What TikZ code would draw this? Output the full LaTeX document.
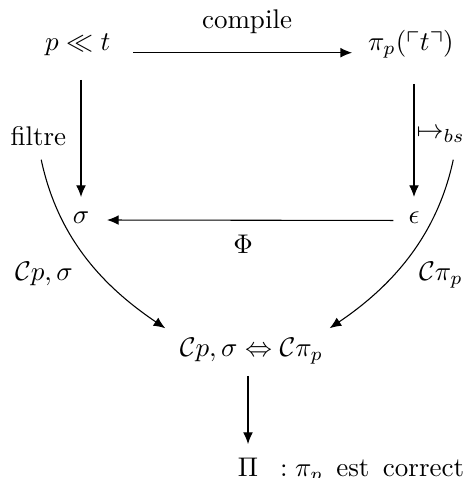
\documentclass[tikz,border=0pt]{standalone}
\usepackage{amssymb}
\usetikzlibrary{arrows.meta}
\begin{document}
\begin{tikzpicture}[x=0.3704pt,y=-0.3704pt,
  obj/.style={inner sep=0pt, outer sep=0pt, anchor=base},
  lbl/.style={inner sep=0pt, outer sep=0pt, anchor=base},
  arr/.style={-{Latex[length=4.3pt,width=3.6pt]}, line width=0.4pt}]
\useasboundingbox (0,0) rectangle (475,478);
\node[obj, anchor=base west] (A) at (45,50.7) {$p \ll t$};
\node[obj, anchor=base west] (B) at (368,50.7) {$\pi_p(\ulcorner t\urcorner)$};
\node[obj] (S) at (81,223.5) {$\sigma$};
\node[obj] (E) at (414,224) {$\epsilon$};
\node[obj] (M) at (251.5,356.5) {$\mathcal{C}p,\sigma \Leftrightarrow \mathcal{C}\pi_p$};
\node[obj] (P) at (248,476) {$\Pi$};
\node[lbl, anchor=base west] (T) at (280,476) {$:\pi_p$ \,est\, correct};
\node[lbl] (lc) at (247,29) {compile};
\node[lbl] (lphi) at (243,253.5) {$\Phi$};
\node[lbl] (F) at (38.3,145.7) {filtre};
\node[lbl, anchor=base west] (R) at (416.7,138.5) {$\mapsto_{bs}$};
\node[lbl] (lcl) at (44,280.5) {$\mathcal{C}p,\sigma$};
\node[lbl] (lcr) at (441,280.5) {$\mathcal{C}\pi_p$};

\draw[arr, shorten <=8.4pt, shorten >=5.9pt] ([yshift=-0.74pt]A.base east) -- ([yshift=-0.74pt]B.base west);
\draw[arr, shorten <=8.9pt, shorten >=5.5pt] (A.south -| S.north) -- (S.north);
\draw[arr, shorten <=9.4pt, shorten >=5.7pt] (B.south -| E.north) -- (E.north);
\draw[arr, shorten <=5.6pt, shorten >=6.6pt] ([yshift=1.3pt]E.base west) -- ([yshift=1.3pt]S.base east);
\draw[arr, shorten <=4.3pt, shorten >=5pt] (M.south -| P.north) -- (P.north);
\draw[arr, shorten <=5.2pt, shorten >=6.5pt] (F.south) to[out=-78,in=146] (M.north west);
\draw[arr, shorten <=6.5pt, shorten >=6.5pt] ([xshift=6pt]R.south) to[out=-102,in=34] ([xshift=-3pt]M.north east);
\end{tikzpicture}
\end{document}
